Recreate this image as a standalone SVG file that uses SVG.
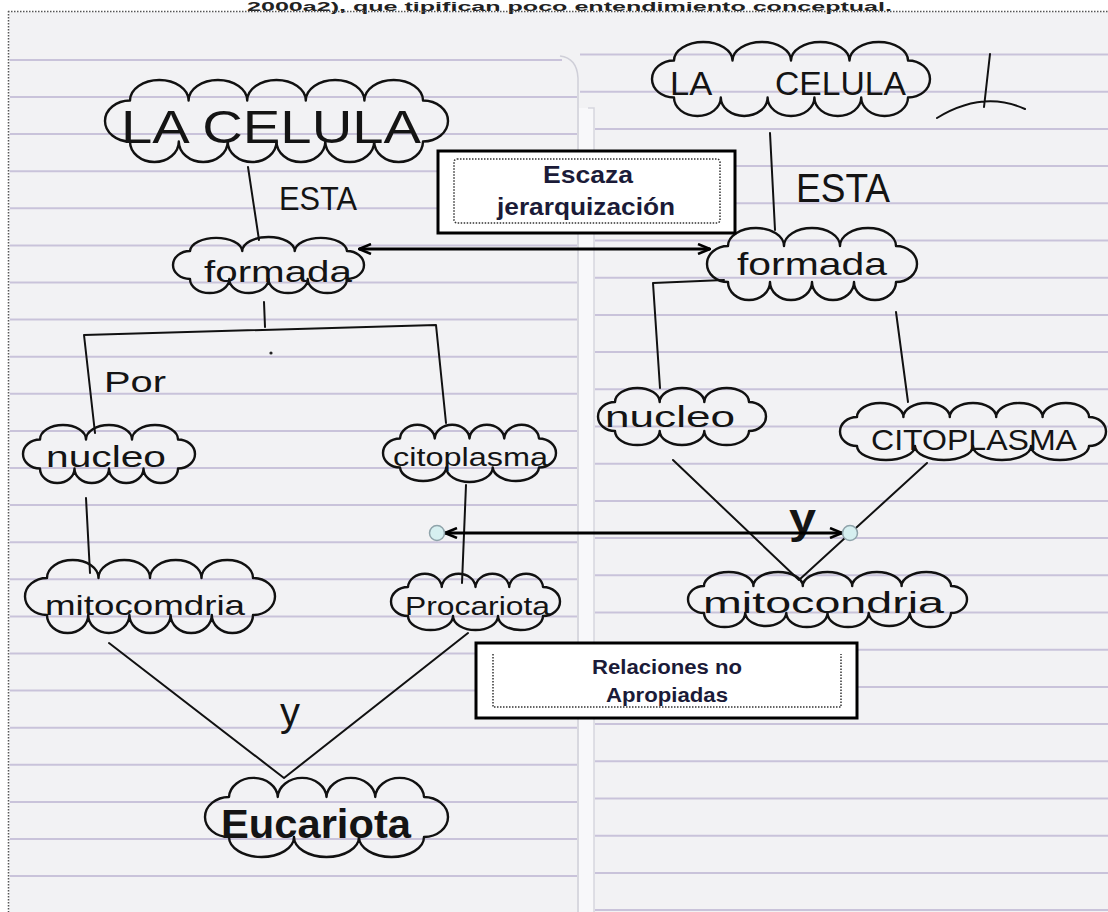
<svg xmlns="http://www.w3.org/2000/svg" width="1108" height="912" viewBox="0 0 1108 912">
<style>
.rule{stroke:#c9c3da;stroke-width:2;fill:none}
.cloud{fill:none;stroke:#111;stroke-width:2.4;stroke-linejoin:round}
.ink{fill:none;stroke:#111;stroke-width:2;stroke-linecap:round;stroke-linejoin:round}
.hw{font-family:"Liberation Sans",Arial,sans-serif;fill:#141414}
.box{fill:#fff;stroke:#000;stroke-width:3}
.dot{fill:none;stroke:#333;stroke-width:1.5;stroke-dasharray:1.5 1.5}
.lbl{font-family:"Liberation Sans",Arial,sans-serif;font-weight:bold;fill:#1b1b38;text-anchor:middle}
.arr{stroke:#000;stroke-width:3;fill:none;marker-start:url(#ah);marker-end:url(#ah)}
.handle{fill:#d6eff0;stroke:#8fa3aa;stroke-width:1.5}
</style>
<defs>
<marker id="ah" viewBox="0 0 14 12" refX="13" refY="6" markerWidth="14" markerHeight="12" markerUnits="userSpaceOnUse" orient="auto-start-reverse">
<path d="M1 1 L13 6 L1 11" fill="none" stroke="#000" stroke-width="2.5"/>
</marker>
</defs>
<rect x="0" y="0" width="1108" height="912" fill="#fff"/>
<rect x="9" y="12" width="1099" height="900" fill="#f2f2f4"/>
<text x="247" y="10.5" font-family="Liberation Sans, Arial, sans-serif" font-size="12" font-weight="bold" fill="#222" textLength="645" lengthAdjust="spacingAndGlyphs">2000a2), que tipifican poco entendimiento conceptual.</text>
<g id="paper">
<path class="rule" d="M10 59.9H562 M10 97H577 M10 134.1H577 M10 171.2H577 M10 208.3H577 M10 245.4H577 M10 282.5H577 M10 319.6H577 M10 356.7H577 M10 393.8H577 M10 430.9H577 M10 468H577 M10 505.1H577 M10 542.2H577 M10 579.3H577 M10 616.4H577 M10 653.5H577 M10 690.6H577 M10 727.7H577 M10 764.8H577 M10 801.9H577 M10 839H577 M10 876.1H577"/>
<path class="rule" d="M580 54.5H1108 M580 91.7H1108 M595 128.9H1108 M595 166.1H1108 M595 203.3H1108 M595 240.5H1108 M595 277.7H1108 M595 314.9H1108 M595 352.1H1108 M595 389.3H1108 M595 426.5H1108 M595 463.7H1108 M595 500.9H1108 M595 538.1H1108 M595 575.3H1108 M595 612.5H1108 M595 649.7H1108 M595 686.9H1108 M595 724.1H1108 M595 761.3H1108 M595 798.5H1108 M595 835.7H1108 M595 872.9H1108 M595 910.1H1108"/>
<rect x="579" y="108" width="15" height="804" fill="#f8f8fa"/>
<path d="M560 56 Q577 58 578 78 L578 912" fill="none" stroke="#cfcfd8" stroke-width="1.5"/>
<path d="M588 108 H594 V912" fill="none" stroke="#d6d6de" stroke-width="1.5"/>
</g>
<path d="M8 11.5 H1108 M8.5 11 V912" fill="none" stroke="#555" stroke-width="1.5" stroke-dasharray="1.5 1.5"/>
<g id="connectors">
<path class="ink" d="M248 167 L259 240"/>
<path class="ink" d="M264 302 L265 327"/>
<path class="ink" d="M95 433 L84 335 L436 325 L446 423"/>
<circle cx="271" cy="353" r="1.6" fill="#222"/>
<path class="ink" d="M86 498 L90 573"/>
<path class="ink" d="M466 485 L462 583"/>
<path class="ink" d="M109 643 L284 778 L468 633"/>
<path class="ink" d="M770 133 L775 230"/>
<path class="ink" d="M724 280 L653 283 L660 388"/>
<path class="ink" d="M896 312 L908 402"/>
<path class="ink" d="M673 460 L799 580 L927 463"/>
<path class="ink" d="M990 54 L984 107 M937 118 Q983 90 1025 109"/>
<text class="hw" x="279" y="210" font-size="34" textLength="78" lengthAdjust="spacingAndGlyphs">ESTA</text>
<text class="hw" x="104" y="392" font-size="30" textLength="62" lengthAdjust="spacingAndGlyphs">Por</text>
<text class="hw" x="280" y="726" font-size="40" textLength="20" lengthAdjust="spacingAndGlyphs">y</text>
<text class="hw" x="796" y="202" font-size="40" textLength="94" lengthAdjust="spacingAndGlyphs">ESTA</text>
<text class="hw" x="789" y="533" font-size="42" font-weight="bold" textLength="27" lengthAdjust="spacingAndGlyphs">y</text>
</g>
<g id="L_celula">
<path class="cloud" d="M130 141.5 A25 20.5 0 0 1 130 100.5 A29.3 20.5 0 0 1 188.6 100.5 A29.3 20.5 0 0 1 247.2 100.5 A29.3 20.5 0 0 1 305.8 100.5 A29.3 20.5 0 0 1 364.4 100.5 A29.3 20.5 0 0 1 423 100.5 A25 20.5 0 0 1 423 141.5 A24.4 20.5 0 0 1 374.2 141.5 A24.4 20.5 0 0 1 325.3 141.5 A24.4 20.5 0 0 1 276.5 141.5 A24.4 20.5 0 0 1 227.7 141.5 A24.4 20.5 0 0 1 178.8 141.5 A24.4 20.5 0 0 1 130 141.5 Z"/>
<text class="hw" x="121" y="143" font-size="46" textLength="300" lengthAdjust="spacingAndGlyphs">LA CELULA</text>
</g>
<g id="L_formada">
<path class="cloud" d="M190 279 A17 14 0 0 1 190 251 A26.2 14 0 0 1 242.3 251 A26.2 14 0 0 1 294.7 251 A26.2 14 0 0 1 347 251 A17 14 0 0 1 347 279 A19.6 14 0 0 1 307.75 279 A19.6 14 0 0 1 268.5 279 A19.6 14 0 0 1 229.25 279 A19.6 14 0 0 1 190 279 Z"/>
<text class="hw" x="204" y="282" font-size="30" textLength="148" lengthAdjust="spacingAndGlyphs">formada</text>
</g>
<g id="L_nucleo">
<path class="cloud" d="M40 468.5 A17 14.5 0 0 1 40 439.5 A23 14.5 0 0 1 86 439.5 A23 14.5 0 0 1 132 439.5 A23 14.5 0 0 1 178 439.5 A17 14.5 0 0 1 178 468.5 A17.25 14.5 0 0 1 143.5 468.5 A17.25 14.5 0 0 1 109 468.5 A17.25 14.5 0 0 1 74.5 468.5 A17.25 14.5 0 0 1 40 468.5 Z"/>
<text class="hw" x="46" y="467" font-size="30" textLength="120" lengthAdjust="spacingAndGlyphs">nucleo</text>
</g>
<g id="L_citoplasma">
<path class="cloud" d="M400 467.5 A17 14.5 0 0 1 400 438.5 A17.4 14.5 0 0 1 434.75 438.5 A17.4 14.5 0 0 1 469.5 438.5 A17.4 14.5 0 0 1 504.25 438.5 A17.4 14.5 0 0 1 539 438.5 A17 14.5 0 0 1 539 467.5 A23.2 14.5 0 0 1 492.7 467.5 A23.2 14.5 0 0 1 446.3 467.5 A23.2 14.5 0 0 1 400 467.5 Z"/>
<text class="hw" x="393" y="466" font-size="26" textLength="155" lengthAdjust="spacingAndGlyphs">citoplasma</text>
</g>
<g id="L_mitocomdria">
<path class="cloud" d="M47 615 A22 18.5 0 0 1 47 578 A25.75 18 0 0 1 98.5 578 A25.75 18 0 0 1 150 578 A25.75 18 0 0 1 201.5 578 A25.75 18 0 0 1 253 578 A22 18.5 0 0 1 253 615 A20.6 18 0 0 1 211.8 615 A20.6 18 0 0 1 170.6 615 A20.6 18 0 0 1 129.4 615 A20.6 18 0 0 1 88.2 615 A20.6 18 0 0 1 47 615 Z"/>
<text class="hw" x="45" y="615" font-size="28" textLength="200" lengthAdjust="spacingAndGlyphs">mitocomdria</text>
</g>
<g id="L_procariota">
<path class="cloud" d="M408 616 A17 14.5 0 0 1 408 587 A16.9 14 0 0 1 441.75 587 A16.9 14 0 0 1 475.5 587 A16.9 14 0 0 1 509.25 587 A16.9 14 0 0 1 543 587 A17 14.5 0 0 1 543 616 A22.5 14 0 0 1 498 616 A22.5 14 0 0 1 453 616 A22.5 14 0 0 1 408 616 Z"/>
<text class="hw" x="405" y="615" font-size="26" textLength="145" lengthAdjust="spacingAndGlyphs">Procariota</text>
</g>
<g id="L_eucariota">
<path class="cloud" d="M229 837 A24 20 0 0 1 229 797 A24.4 20 0 0 1 277.75 797 A24.4 20 0 0 1 326.5 797 A24.4 20 0 0 1 375.25 797 A24.4 20 0 0 1 424 797 A24 20 0 0 1 424 837 A32.5 20 0 0 1 359 837 A32.5 20 0 0 1 294 837 A32.5 20 0 0 1 229 837 Z"/>
<text class="hw" x="221" y="838" font-size="40" font-weight="bold" textLength="190" lengthAdjust="spacingAndGlyphs">Eucariota</text>
</g>
<g id="R_celula">
<path class="cloud" d="M674 97.5 A22 18.5 0 0 1 674 60.5 A29.25 18.5 0 0 1 732.5 60.5 A29.25 18.5 0 0 1 791 60.5 A29.25 18.5 0 0 1 849.5 60.5 A29.25 18.5 0 0 1 908 60.5 A22 18.5 0 0 1 908 97.5 A23.4 18.5 0 0 1 861.2 97.5 A23.4 18.5 0 0 1 814.4 97.5 A23.4 18.5 0 0 1 767.6 97.5 A23.4 18.5 0 0 1 720.8 97.5 A23.4 18.5 0 0 1 674 97.5 Z"/>
<text class="hw" y="95" font-size="34"><tspan x="670" textLength="50" lengthAdjust="spacingAndGlyphs">LA </tspan><tspan x="775" textLength="131" lengthAdjust="spacingAndGlyphs">CELULA</tspan></text>
</g>
<g id="R_formada">
<path class="cloud" d="M728 282 A21 18 0 0 1 728 246 A28 18 0 0 1 784 246 A28 18 0 0 1 840 246 A28 18 0 0 1 896 246 A21 18 0 0 1 896 282 A21 18 0 0 1 854 282 A21 18 0 0 1 812 282 A21 18 0 0 1 770 282 A21 18 0 0 1 728 282 Z"/>
<text class="hw" x="737" y="275" font-size="32" textLength="150" lengthAdjust="spacingAndGlyphs">formada</text>
</g>
<g id="R_nucleo">
<path class="cloud" d="M615 431 A17 14.5 0 0 1 615 402 A22.3 14 0 0 1 659.7 402 A22.3 14 0 0 1 704.3 402 A22.3 14 0 0 1 749 402 A17 14.5 0 0 1 749 431 A22.3 14 0 0 1 704.3 431 A22.3 14 0 0 1 659.7 431 A22.3 14 0 0 1 615 431 Z"/>
<text class="hw" x="605" y="427" font-size="30" textLength="130" lengthAdjust="spacingAndGlyphs">nucleo</text>
</g>
<g id="R_citoplasma">
<path class="cloud" d="M857 446 A17 14.5 0 0 1 857 417 A23.2 14 0 0 1 903.4 417 A23.2 14 0 0 1 949.8 417 A23.2 14 0 0 1 996.2 417 A23.2 14 0 0 1 1042.6 417 A23.2 14 0 0 1 1089 417 A17 14.5 0 0 1 1089 446 A29 14 0 0 1 1031 446 A29 14 0 0 1 973 446 A29 14 0 0 1 915 446 A29 14 0 0 1 857 446 Z"/>
<text class="hw" x="871" y="450" font-size="30" textLength="206" lengthAdjust="spacingAndGlyphs">CITOPLASMA</text>
</g>
<g id="R_mitocondria">
<path class="cloud" d="M704 613 A16 13.5 0 0 1 704 586 A24.7 14 0 0 1 753.4 586 A24.7 14 0 0 1 802.8 586 A24.7 14 0 0 1 852.2 586 A24.7 14 0 0 1 901.6 586 A24.7 14 0 0 1 951 586 A16 13.5 0 0 1 951 613 A20.6 14 0 0 1 909.8 613 A20.6 14 0 0 1 868.7 613 A20.6 14 0 0 1 827.5 613 A20.6 14 0 0 1 786.3 613 A20.6 14 0 0 1 745.2 613 A20.6 14 0 0 1 704 613 Z"/>
<text class="hw" x="703" y="613" font-size="30" textLength="241" lengthAdjust="spacingAndGlyphs">mitocondria</text>
</g>
<g id="note_jerarquizacion">
<rect class="box" x="438" y="151" width="297" height="82"/>
<rect class="dot" x="454" y="159" width="266" height="64" rx="3"/>
<text class="lbl" x="588" y="183" font-size="24" textLength="90" lengthAdjust="spacingAndGlyphs">Escaza</text>
<text class="lbl" x="586" y="215" font-size="24" textLength="178" lengthAdjust="spacingAndGlyphs">jerarquización</text>
<path class="arr" d="M359 249 H710"/>
</g>
<g id="note_relaciones">
<rect class="box" x="476" y="643" width="381" height="75"/>
<path class="dot" d="M493 654 V707 H841 V654"/>
<text class="lbl" x="667" y="674" font-size="20" textLength="150" lengthAdjust="spacingAndGlyphs">Relaciones no</text>
<text class="lbl" x="667" y="702" font-size="20" textLength="122" lengthAdjust="spacingAndGlyphs">Apropiadas</text>
<path class="arr" d="M445 533 H842"/>
<circle class="handle" cx="437" cy="533" r="7.5"/>
<circle class="handle" cx="850" cy="533" r="7.5"/>
</g>
</svg>
